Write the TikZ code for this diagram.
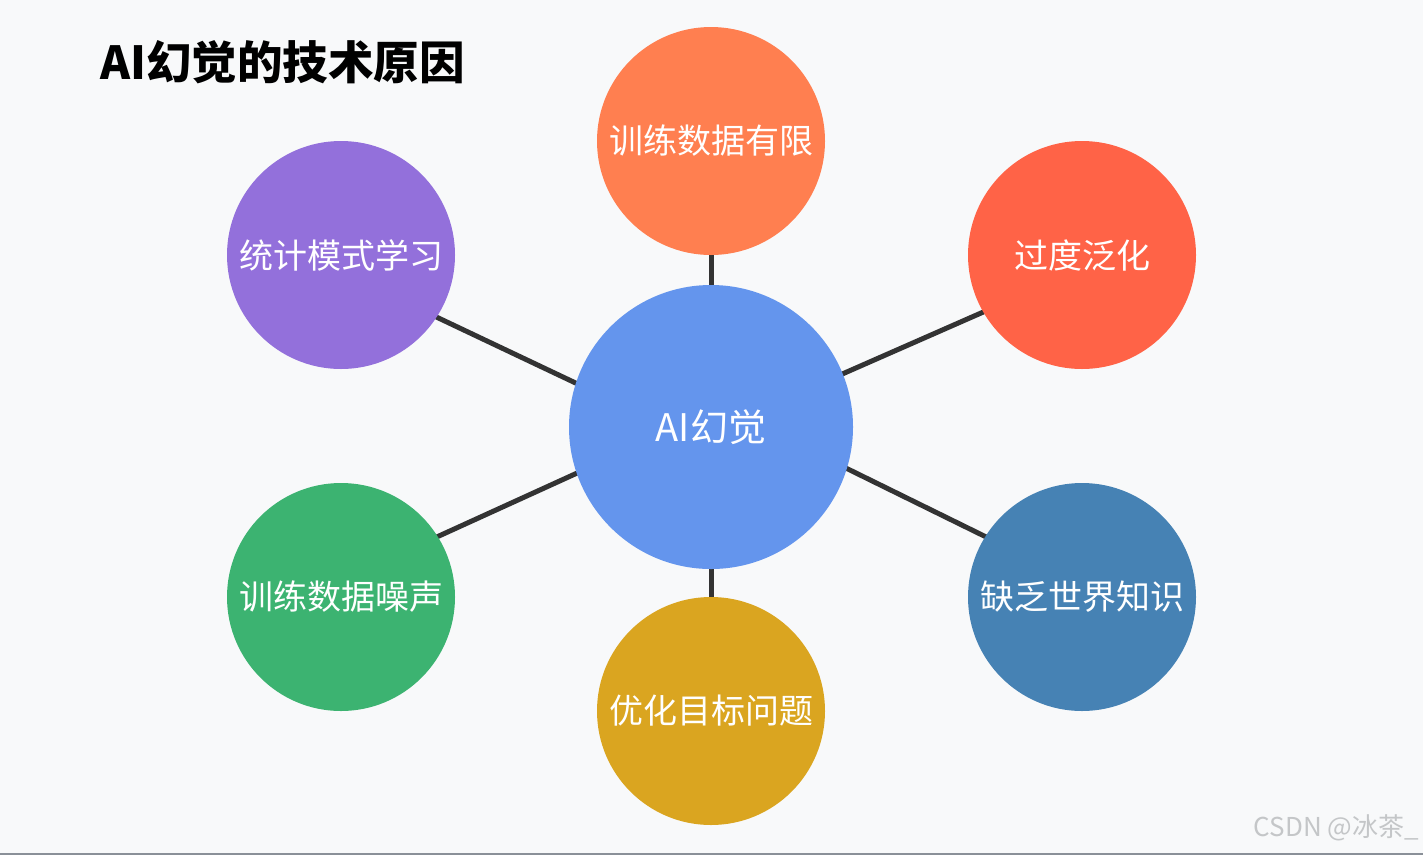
\documentclass[tikz,border=0pt]{standalone}
\usepackage{fontspec}
\usetikzlibrary{backgrounds}
\newfontfamily\cjk{Noto Sans CJK SC}
\definecolor{bgc}{HTML}{F8F9FA}
\definecolor{linec}{HTML}{333333}
\definecolor{cCenter}{HTML}{6495ED}
\definecolor{cTop}{HTML}{FF7F50}
\definecolor{cTR}{HTML}{FF6347}
\definecolor{cBR}{HTML}{4682B4}
\definecolor{cB}{HTML}{DAA520}
\definecolor{cBL}{HTML}{3CB371}
\definecolor{cTL}{HTML}{9370DB}
\definecolor{wm}{HTML}{C4C6C8}
\definecolor{edgec}{HTML}{8A9098}
\newcommand{\lowtxt}[1]{\raisebox{-2pt}{#1}}
\begin{document}
\begin{tikzpicture}[x=1pt,y=-1pt,
  outer/.style={circle,minimum size=228pt,inner sep=0pt,text=white,font=\cjk\fontsize{34}{36}\selectfont},
  centre/.style={circle,minimum size=284pt,inner sep=0pt,text=white,fill=cCenter,font=\cjk\fontsize{38}{40}\selectfont},
  link/.style={draw=linec,line width=5pt,shorten <=-8pt,shorten >=-8pt}]
\useasboundingbox (0,0) rectangle (1423,855);
\node[anchor=west,inner sep=0pt,font=\cjk\bfseries\fontsize{45.5}{50}\selectfont] (title) at (100,62) {AI幻觉的技术原因};
\node[centre] (c) at (711,427) {AI幻觉};
\node[outer,fill=cTop] (t) at (711,141) {\lowtxt{训练数据有限}};
\node[outer,fill=cTR] (tr) at (1082,255) {\lowtxt{过度泛化}};
\node[outer,fill=cBR] (br) at (1082,597) {\lowtxt{缺乏世界知识}};
\node[outer,fill=cB] (b) at (711,711) {\lowtxt{优化目标问题}};
\node[outer,fill=cBL] (bl) at (341,597) {\lowtxt{训练数据噪声}};
\node[outer,fill=cTL] (tl) at (341,255) {\lowtxt{统计模式学习}};
\begin{scope}[on background layer]
\fill[bgc] (0,0) rectangle (1423,855);
\fill[edgec] (0,852.5) rectangle (1423,855);
\draw[link] (c.north) -- (t.south);
\draw[link] (c.south) -- (b.north);
\draw[link] (c.162.3) -- (tl.327.6);
\draw[link] (c.199.1) -- (bl.32);
\draw[link] (c.343.2) -- (br.148);
\draw[link] (c.22.2) -- (tr.210.9);
\end{scope}
\node[anchor=east,inner sep=0pt,text=wm,font=\cjk\fontsize{26}{28}\selectfont] (wmark) at (1419,828) {CSDN @冰茶\_};
\end{tikzpicture}
\end{document}
